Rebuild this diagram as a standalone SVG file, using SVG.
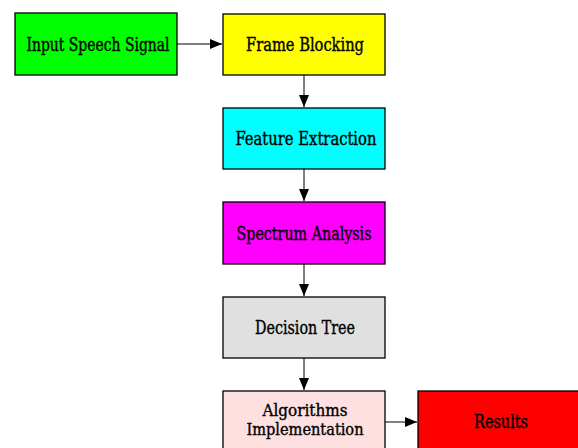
<svg xmlns="http://www.w3.org/2000/svg" width="578" height="448" viewBox="0 0 578 448">
<defs>
<style>
.box{stroke:#000;stroke-width:1.3}
.t{font-family:"DejaVu Serif Condensed","DejaVu Serif",serif;font-size:18.5px;text-anchor:middle;fill:#000;stroke:#000;stroke-width:0.35}
.s{font-size:16px}
.c{stroke:#000;stroke-width:1;fill:none}
</style>
<marker id="ah" markerWidth="12" markerHeight="10" refX="12" refY="5" orient="auto" markerUnits="userSpaceOnUse">
<path d="M0,0 L12,5 L0,10 Z" fill="#000"/>
</marker>
</defs>
<rect width="578" height="448" fill="#fff"/>
<g id="connectors">
<line class="c" x1="177" y1="44" x2="222" y2="44" marker-end="url(#ah)"/>
<line class="c" x1="304" y1="75" x2="304" y2="107" marker-end="url(#ah)"/>
<line class="c" x1="304" y1="169" x2="304" y2="201" marker-end="url(#ah)"/>
<line class="c" x1="304" y1="264" x2="304" y2="296" marker-end="url(#ah)"/>
<line class="c" x1="304" y1="358" x2="304" y2="390" marker-end="url(#ah)"/>
<line class="c" x1="385" y1="422" x2="417" y2="422" marker-end="url(#ah)"/>
</g>
<g id="input">
<rect class="box" x="15" y="13" width="162" height="62" fill="#00ff00"/>
<text class="t" x="98" y="51" textLength="143" lengthAdjust="spacingAndGlyphs">Input Speech Signal</text>
</g>
<g id="frame">
<rect class="box" x="223" y="14" width="162" height="61" fill="#ffff00"/>
<text class="t" x="305" y="51" textLength="118" lengthAdjust="spacingAndGlyphs">Frame Blocking</text>
</g>
<g id="feature">
<rect class="box" x="223" y="108" width="162" height="61" fill="#00ffff"/>
<text class="t" x="306" y="145" textLength="141" lengthAdjust="spacingAndGlyphs">Feature Extraction</text>
</g>
<g id="spectrum">
<rect class="box" x="223" y="202" width="162" height="62" fill="#ff00ff"/>
<text class="t" x="304" y="240" textLength="135" lengthAdjust="spacingAndGlyphs">Spectrum Analysis</text>
</g>
<g id="decision">
<rect class="box" x="223" y="297" width="162" height="61" fill="#e0e0e0"/>
<text class="t" x="305" y="334" textLength="100" lengthAdjust="spacingAndGlyphs">Decision Tree</text>
</g>
<g id="algorithms">
<rect class="box" x="223" y="391" width="162" height="62" fill="#ffe0e0"/>
<text class="t s" x="305" y="416" textLength="85" lengthAdjust="spacingAndGlyphs">Algorithms</text>
<text class="t s" x="305" y="435" textLength="117" lengthAdjust="spacingAndGlyphs">Implementation</text>
</g>
<g id="results">
<rect class="box" x="418" y="391" width="170" height="62" fill="#ff0000"/>
<text class="t" x="501" y="428" textLength="54" lengthAdjust="spacingAndGlyphs">Results</text>
</g>
</svg>
